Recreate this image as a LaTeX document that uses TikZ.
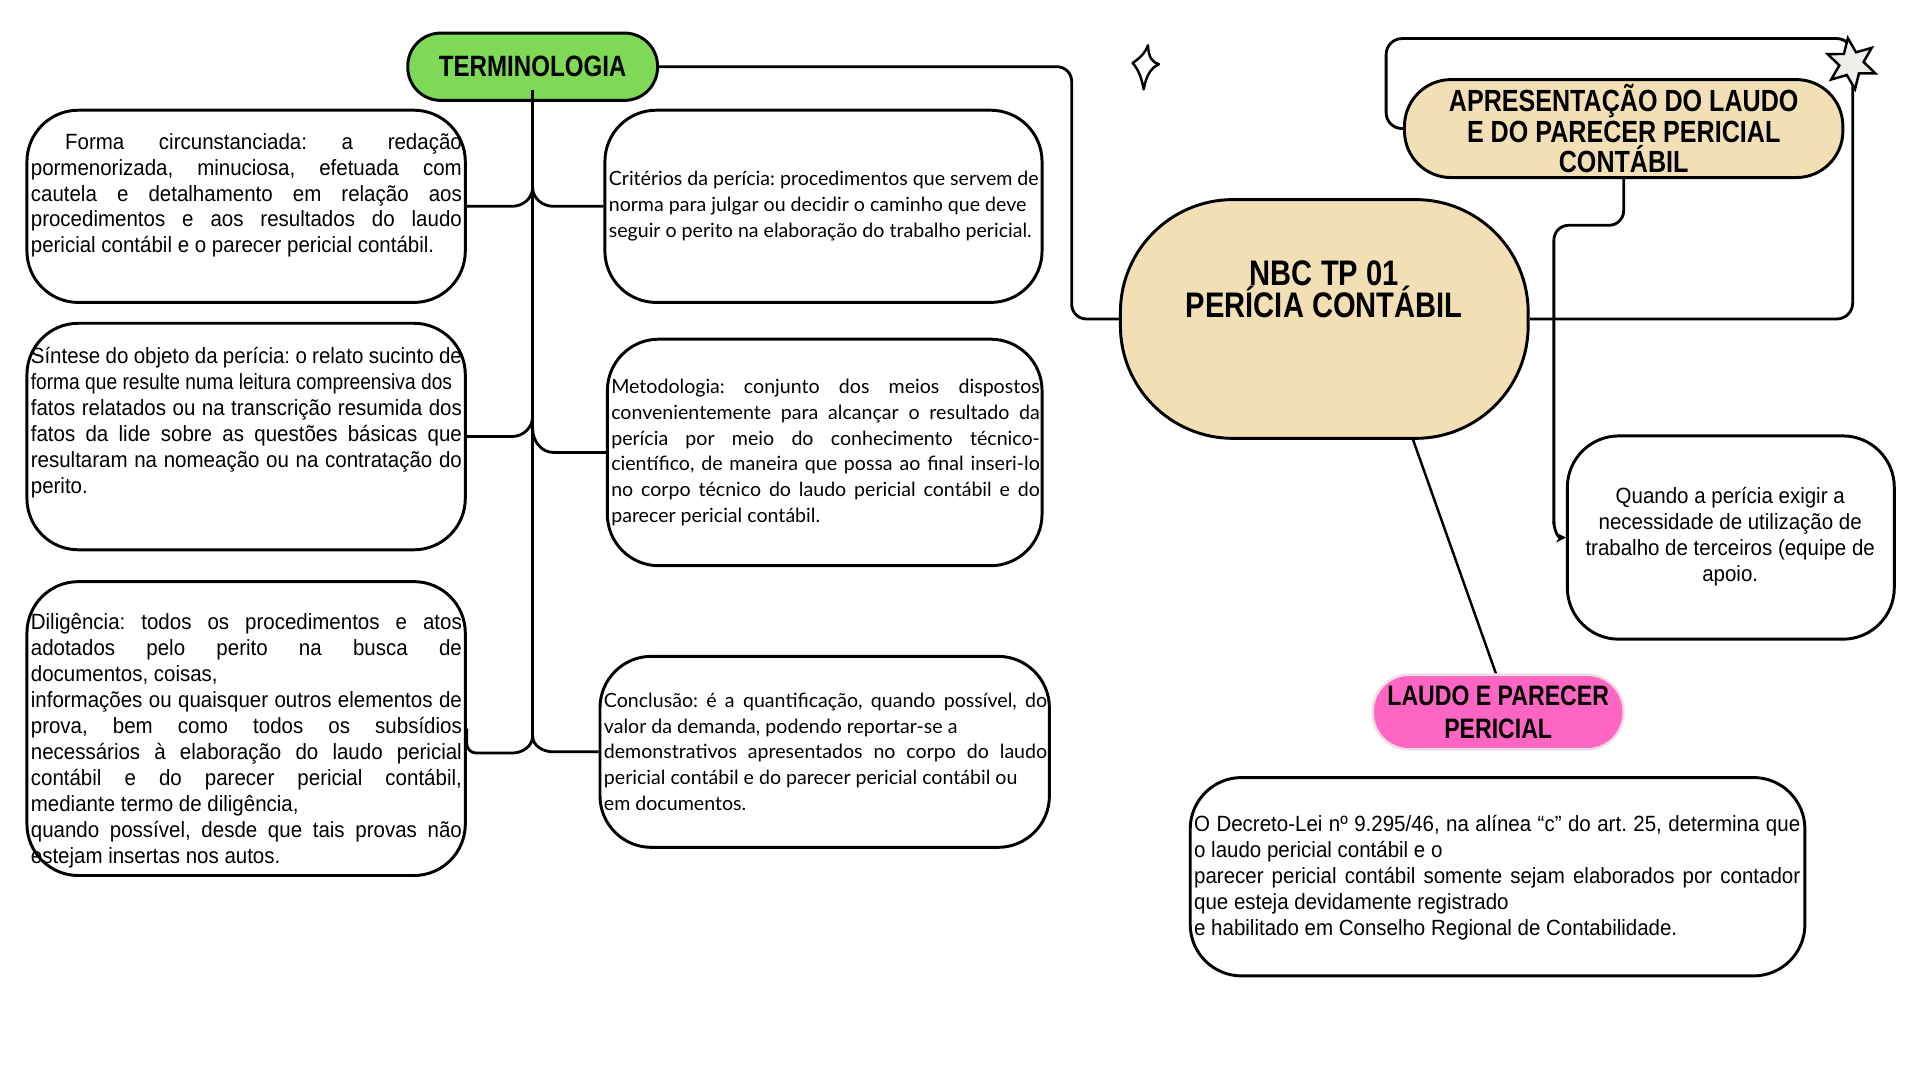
\documentclass[tikz,border=0pt]{standalone}
\usepackage{fontspec}
\usepackage{graphicx}
\usetikzlibrary{arrows.meta,shapes.geometric}
\newfontfamily\condf[FakeStretch=0.93]{Liberation Sans}
\newfontfamily\titlef[FakeStretch=0.82]{Liberation Sans}
\newfontfamily\ralf{Lato}
\definecolor{tgreen}{HTML}{7ED957}
\definecolor{wheat}{HTML}{F3DFB5}
\definecolor{tpink}{HTML}{FF66C4}
\definecolor{pinkedge}{HTML}{F2DCE6}
\definecolor{starfill}{HTML}{EEEEEA}
\newcommand{\bodyA}{\condf\fontsize{18}{21.2}\selectfont\frenchspacing}
\newcommand{\bodyB}{\ralf\fontsize{16}{21.2}\selectfont\frenchspacing}
\newcommand{\jpar}[3]{\parbox{#1}{#2#3}}
\tikzset{
  box/.style={draw, line width=2.4pt, rounded corners=42pt, inner sep=0pt, fill=white},
  pill/.style={draw, line width=2.4pt, inner sep=0pt, align=center,
    font=\titlef\bfseries},
  conn/.style={line width=2.3pt},
  txt/.style={inner sep=0pt, anchor=west},
}
\begin{document}
\frenchspacing
\begin{tikzpicture}[x=1pt,y=-1pt]
\useasboundingbox[fill=white] (0,0) rectangle (1568,882);

% ---------- boxes ----------
\node[box, minimum width=358pt, minimum height=157pt] (forma) at (201,168.5) {};
\node[box, minimum width=358pt, minimum height=185pt] (sint) at (201,356.5) {};
\node[box, minimum width=358pt, minimum height=240pt] (dilig) at (201,595) {};
\node[box, minimum width=357pt, minimum height=157pt] (crit) at (672.5,168.5) {};
\node[box, minimum width=355pt, minimum height=185pt] (meto) at (673.5,369.5) {};
\node[box, minimum width=367pt, minimum height=156pt] (concl) at (673.5,614) {};
\node[box, minimum width=267pt, minimum height=166pt] (quando) at (1413.5,439) {};
\node[box, minimum width=502pt, minimum height=162pt] (decr) at (1223,716) {};

% ---------- connectors (left tree) ----------
\node[pill, fill=tgreen, rounded corners=27pt, minimum width=204pt, minimum height=55pt,
  font=\titlef\bfseries\fontsize{24}{26}\selectfont] (term) at (435,54.5) {TERMINOLOGIA};

\coordinate (j1) at (435,153);
\coordinate (j2) at (435,340);
\coordinate (j3) at (435,350);
\coordinate (tb) at (435,601);
\draw[conn] ([yshift=10pt]term.south) -- (tb);
\draw[conn] (forma.east) -- (418,168.5) to[out=0,in=-90] (j1);
\draw[conn] (j1) to[out=-90,in=180] (452,168.5) -- (crit.west);
\draw[conn] (sint.east) -- (418,356.5) to[out=0,in=-90] (j2);
\draw[conn] (j3) to[out=-90,in=180] (452,369.5) -- (meto.west);
\draw[conn, rounded corners=8pt] (dilig.east) -- (381,615) -- (418,615);
\draw[conn] (418,615) to[out=0,in=-90] (tb);
\draw[conn] (tb) to[out=-90,in=180] (452,614) -- (concl.west);

% ---------- main node ----------
\draw[conn, rounded corners=12pt] (term.east) -- ++(337,0) |- (1100,260.5);
\node[draw, line width=2.4pt, fill=wheat, rounded corners=92pt,
  minimum width=333pt, minimum height=195pt, inner sep=0pt] (nbc) at (1081.5,260.5) {};
\node[inner sep=0pt, align=center, font=\titlef\bfseries\fontsize{29}{26}\selectfont]
  (nbct) at (1081.5,236) {NBC TP 01\\PERÍCIA CONTÁBIL};

% loop to APRESENTACAO
\draw[conn, rounded corners=13pt] (nbc.east) -- (1513,260.5) -- (1513,31.5)
  -- (1132,31.5) -- (1132,105) -- (1150,105);
\node[pill, fill=wheat, rounded corners=38pt, minimum width=358pt, minimum height=80pt,
  font=\titlef\bfseries\fontsize{25}{25}\selectfont] (apr) at (1326,105)
  {APRESENTAÇÃO DO LAUDO\\E DO PARECER PERICIAL\\CONTÁBIL};
\node[star, star points=6, star point ratio=2.1, minimum size=42pt, inner sep=0pt,
  draw, line width=2pt, fill=starfill, rotate=8] (star) at (1512,52) {};

% APRESENTACAO -> Quando
\draw[conn, rounded corners=12pt] (apr.south) -- (1326,184) -- (1269,184) -- (1269,428);
\draw[conn, -{Stealth[length=8pt,width=8pt]}] (1269,426) to[out=-90,in=180] (quando.west);

% NBC -> LAUDO
\draw[line width=2pt] ([xshift=72.5pt]nbc.south) -- (1222,551);
\node[draw=pinkedge, line width=2pt, fill=tpink, rounded corners=30pt, inner sep=0pt,
  minimum width=205pt, minimum height=61pt, align=center,
  font=\titlef\bfseries\fontsize{23}{27}\selectfont] (laudo) at (1223.5,581.5)
  {LAUDO E PARECER\\PERICIAL};

% sparkle
\draw[line width=2pt, line join=round]
  (937.5,37) .. controls (938,47) and (941,51) .. (946.5,52.5)
  .. controls (940,55) and (936,62) .. (934,73)
  .. controls (932,62) and (929,56) .. (925,51.5)
  .. controls (930,48) and (935,44) .. cycle;

% ---------- texts ----------
\node[txt] (tforma) at (25,159.5) {\jpar{352pt}{\bodyA}{\hspace*{28pt}Forma circunstanciada: a redação\linebreak
pormenorizada, minuciosa, efetuada com\linebreak
cautela e detalhamento em relação aos\linebreak
procedimentos e aos resultados do laudo\linebreak
pericial contábil e o parecer pericial contábil.}};

\node[txt] (tsint) at (25,345.5) {\jpar{352pt}{\bodyA}{Síntese do objeto da perícia: o relato sucinto de\linebreak
\resizebox{344pt}{\height}{forma que resulte numa leitura compreensiva dos}\\
fatos relatados ou na transcrição resumida dos\linebreak
fatos da lide sobre as questões básicas que\linebreak
resultaram na nomeação ou na contratação do\linebreak
perito.}};

\node[txt] (tdilig) at (25,605) {\jpar{352pt}{\bodyA}{Diligência: todos os procedimentos e atos\linebreak
adotados pelo perito na busca de\linebreak
documentos, coisas,\\
informações ou quaisquer outros elementos de\linebreak
prova, bem como todos os subsídios\linebreak
necessários à elaboração do laudo pericial\linebreak
contábil e do parecer pericial contábil,\linebreak
mediante termo de diligência,\\
quando possível, desde que tais provas não\linebreak
estejam insertas nos autos.}};

\node[txt, align=left, font=\bodyB] (tcrit) at (497,168.5)
{Critérios da perícia: procedimentos que servem de\\
norma para julgar ou decidir o caminho que deve\\
seguir o perito na elaboração do trabalho pericial.};

\node[txt] (tmeto) at (499,369.5) {\jpar{350pt}{\bodyB}{Metodologia: conjunto dos meios dispostos\linebreak
convenientemente para alcançar o resultado da\linebreak
perícia por meio do conhecimento técnico-\linebreak
científico, de maneira que possa ao final inseri-lo\linebreak
no corpo técnico do laudo pericial contábil e do\linebreak
parecer pericial contábil.}};

\node[txt] (tconcl) at (493,614) {\jpar{362pt}{\bodyB}{Conclusão: é a quantificação, quando possível, do\linebreak
valor da demanda, podendo reportar-se a\\
demonstrativos apresentados no corpo do laudo\linebreak
pericial contábil e do parecer pericial contábil ou\\
em documentos.}};

\node[inner sep=0pt, align=center, font=\bodyA] (tquando) at (1413,438.5)
{Quando a perícia exigir a\\
necessidade de utilização de\\
trabalho de terceiros (equipe de\\
apoio.};

\node[txt] (tdecr) at (975,716.5) {\jpar{495pt}{\bodyA}{O Decreto-Lei nº 9.295/46, na alínea “c” do art. 25, determina que\linebreak
o laudo pericial contábil e o\\
parecer pericial contábil somente sejam elaborados por contador\linebreak
que esteja devidamente registrado\\
e habilitado em Conselho Regional de Contabilidade.}};

\end{tikzpicture}
\end{document}
